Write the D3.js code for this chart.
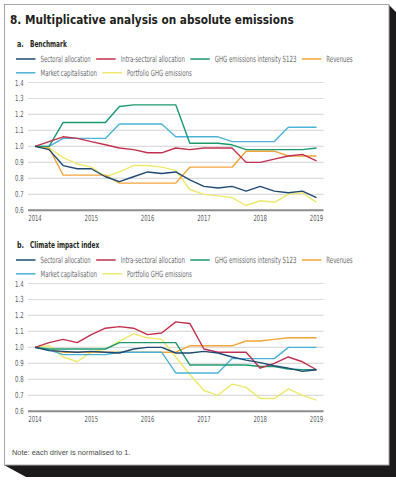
<!DOCTYPE html>
<html>
<head>
<meta charset="utf-8">
<script src="https://cdn.jsdelivr.net/npm/d3@7"></script>
<style>
  body { margin: 0; background: #fff; }
  svg { display: block; }
  text { font-family: "DejaVu Sans Condensed", "Liberation Sans", sans-serif; }
</style>
</head>
<body>
<div id="chart"></div>
<script>
var width = 396;
var height = 480;

// quarterly observations, 2014 to 2019
var quarters = [2014, 2014.25, 2014.5, 2014.75, 2015, 2015.25, 2015.5, 2015.75,
  2016, 2016.25, 2016.5, 2016.75, 2017, 2017.25, 2017.5, 2017.75,
  2018, 2018.25, 2018.5, 2018.75, 2019];

var seriesNames = ["Sectoral allocation", "Intra-sectoral allocation", "GHG emissions intensity S123",
  "Revenues", "Market capitalisation", "Portfolio GHG emissions"];
var seriesColors = ["#1f4a75", "#c2304f", "#1c9a6e", "#f2a43a", "#4cb3d6", "#efe96a"];

var yearTicks = [2014, 2015, 2016, 2017, 2018, 2019];
var valueTicks = [0.6, 0.7, 0.8, 0.9, 1.0, 1.1, 1.2, 1.3, 1.4];

// a. Benchmark
var benchSectoral = [1.0, 0.98, 0.88, 0.86, 0.86, 0.81, 0.78, 0.81, 0.84, 0.83, 0.84, 0.79, 0.75, 0.74, 0.75, 0.72, 0.75, 0.72, 0.71, 0.72, 0.68];
var benchIntra = [1.0, 1.03, 1.06, 1.05, 1.03, 1.01, 0.99, 0.98, 0.96, 0.96, 0.99, 0.98, 0.99, 0.99, 0.99, 0.90, 0.90, 0.92, 0.94, 0.95, 0.91];
var benchIntensity = [1.0, 1.0, 1.15, 1.15, 1.15, 1.15, 1.25, 1.26, 1.26, 1.26, 1.26, 1.02, 1.02, 1.02, 1.01, 0.98, 0.98, 0.98, 0.98, 0.98, 0.99];
var benchRevenues = [1.0, 0.99, 0.82, 0.82, 0.82, 0.82, 0.77, 0.77, 0.77, 0.77, 0.77, 0.87, 0.87, 0.87, 0.87, 0.97, 0.97, 0.97, 0.94, 0.94, 0.94];
var benchMarketCap = [1.0, 1.0, 1.05, 1.05, 1.05, 1.05, 1.14, 1.14, 1.14, 1.14, 1.06, 1.06, 1.06, 1.06, 1.03, 1.03, 1.03, 1.03, 1.12, 1.12, 1.12];
var benchPortfolio = [1.0, 0.99, 0.93, 0.89, 0.87, 0.81, 0.84, 0.88, 0.88, 0.87, 0.85, 0.73, 0.70, 0.69, 0.68, 0.63, 0.66, 0.65, 0.70, 0.71, 0.65];

// b. Climate impact index
var ciiSectoral = [1.0, 0.98, 0.975, 0.97, 0.975, 0.97, 0.965, 0.99, 1.0, 1.0, 0.965, 0.965, 0.975, 0.965, 0.94, 0.92, 0.905, 0.885, 0.87, 0.85, 0.86];
var ciiIntra = [1.0, 1.03, 1.05, 1.03, 1.08, 1.12, 1.13, 1.12, 1.08, 1.09, 1.16, 1.15, 0.99, 0.97, 0.97, 0.97, 0.87, 0.90, 0.94, 0.91, 0.86];
var ciiIntensity = [1.0, 0.99, 0.99, 0.99, 0.99, 0.99, 1.03, 1.03, 1.03, 1.03, 1.03, 0.89, 0.89, 0.89, 0.89, 0.89, 0.88, 0.88, 0.865, 0.86, 0.86];
var ciiRevenues = [1.0, 0.985, 0.97, 0.97, 0.97, 0.97, 0.97, 0.97, 0.97, 0.97, 0.97, 1.01, 1.01, 1.01, 1.01, 1.04, 1.04, 1.05, 1.06, 1.06, 1.06];
var ciiMarketCap = [1.0, 0.985, 0.955, 0.955, 0.955, 0.955, 0.97, 0.97, 0.97, 0.97, 0.84, 0.84, 0.84, 0.84, 0.93, 0.93, 0.93, 0.93, 1.0, 1.0, 1.0];
var ciiPortfolio = [1.0, 1.01, 0.94, 0.91, 0.97, 0.99, 1.04, 1.085, 1.06, 1.05, 0.94, 0.83, 0.73, 0.70, 0.77, 0.75, 0.68, 0.68, 0.74, 0.70, 0.67];

var svg = d3.select("#chart")
  .append("svg")
  .attr("width", width)
  .attr("height", height);

// the original uses a very narrow font: squeeze the glyphs sideways
function narrowText(parent, px, py, f, str) {
  var holder = parent.append("g")
    .attr("transform", "translate(" + px + "," + py + ") scale(" + f + ",1)");
  return holder.append("text").text(str);
}

// frame with its dark extruded shadow
svg.append("path")
  .attr("d", "M389,5 L397,13 L397,477 L26,477 L4,465 L389,465 Z")
  .attr("fill", "#1c1a1a");
svg.append("rect")
  .attr("x", 4.5)
  .attr("y", 4.5)
  .attr("width", 384.5)
  .attr("height", 460.5)
  .attr("fill", "#fff")
  .attr("stroke", "#a8a8a8")
  .attr("stroke-width", 1);

narrowText(svg, 10, 23.5, 0.96, "8. Multiplicative analysis on absolute emissions")
  .attr("font-size", 12.2)
  .attr("font-weight", "bold")
  .attr("fill", "#231f20");

var x = d3.scaleLinear().domain([2014, 2019]).range([35, 316.5]);

panel(0, "a.", "Benchmark",
  [benchSectoral, benchIntra, benchIntensity, benchRevenues, benchMarketCap, benchPortfolio]);
panel(201, "b.", "Climate impact index",
  [ciiSectoral, ciiIntra, ciiIntensity, ciiRevenues, ciiMarketCap, ciiPortfolio]);

svg.append("text")
  .attr("x", 12)
  .attr("y", 454.5)
  .attr("font-size", 7.4)
  .attr("fill", "#4a4a4a")
  .style("font-family", "'Liberation Sans', Arial, sans-serif")
  .text("Note: each driver is normalised to 1.");

function panel(top, letter, name, series) {
  var g = svg.append("g").attr("transform", "translate(0," + top + ")");

  narrowText(g, 17, 46.5, 0.75, letter)
    .attr("font-size", 9.5)
    .attr("font-weight", "bold")
    .attr("fill", "#231f20");
  narrowText(g, 30, 46.5, 0.68, name)
    .attr("font-size", 9.5)
    .attr("font-weight", "bold")
    .attr("fill", "#231f20");

  // legend, two rows laid out as a flow
  var rows = [[0, 1, 2, 3], [4, 5]];
  rows.forEach(function(row, r) {
    var cx = 16;
    var cy = 59 + r * 13.8;
    row.forEach(function(i) {
      g.append("line")
        .attr("x1", cx).attr("x2", cx + 19.5)
        .attr("y1", cy).attr("y2", cy)
        .attr("stroke", seriesColors[i])
        .attr("stroke-width", 1.5);
      var t = narrowText(g, cx + 24.5, cy + 3, 0.7, seriesNames[i])
        .attr("font-size", 8.6)
        .attr("fill", "#6d6e71");
      cx += 24.5 + t.node().getComputedTextLength() * 0.7 + 5.5;
    });
  });

  var y = d3.scaleLinear().domain([0.6, 1.4]).range([210.3, 82.5]);

  g.selectAll(".grid")
    .data(valueTicks.slice(1))
    .enter()
    .append("line")
    .attr("x1", 28).attr("x2", 323.5)
    .attr("y1", function(d) { return y(d); })
    .attr("y2", function(d) { return y(d); })
    .attr("stroke", "#dcdcdc")
    .attr("stroke-width", 1.2);

  g.append("line")
    .attr("x1", 28).attr("x2", 323.5)
    .attr("y1", y(0.6)).attr("y2", y(0.6))
    .attr("stroke", "#8c8c8c")
    .attr("stroke-width", 2);

  valueTicks.forEach(function(d) {
    narrowText(g, 23.5, y(d) + 3, 0.7, d3.format(".1f")(d))
      .attr("text-anchor", "end")
      .attr("font-size", 8.4)
      .attr("fill", "#58595b");
  });

  yearTicks.forEach(function(d) {
    narrowText(g, x(d), 221, 0.7, d)
      .attr("text-anchor", "middle")
      .attr("font-size", 8.4)
      .attr("fill", "#58595b");
  });

  var line = d3.line()
    .x(function(d, i) { return x(quarters[i]); })
    .y(function(d) { return y(d); });

  // yellow first, others over it
  var order = [5, 3, 4, 2, 1, 0];
  order.forEach(function(i) {
    g.append("path")
      .datum(series[i])
      .attr("d", line)
      .attr("fill", "none")
      .attr("stroke", seriesColors[i])
      .attr("stroke-width", 1.4)
      .attr("stroke-linejoin", "round");
  });
}
</script>
</body>
</html>
